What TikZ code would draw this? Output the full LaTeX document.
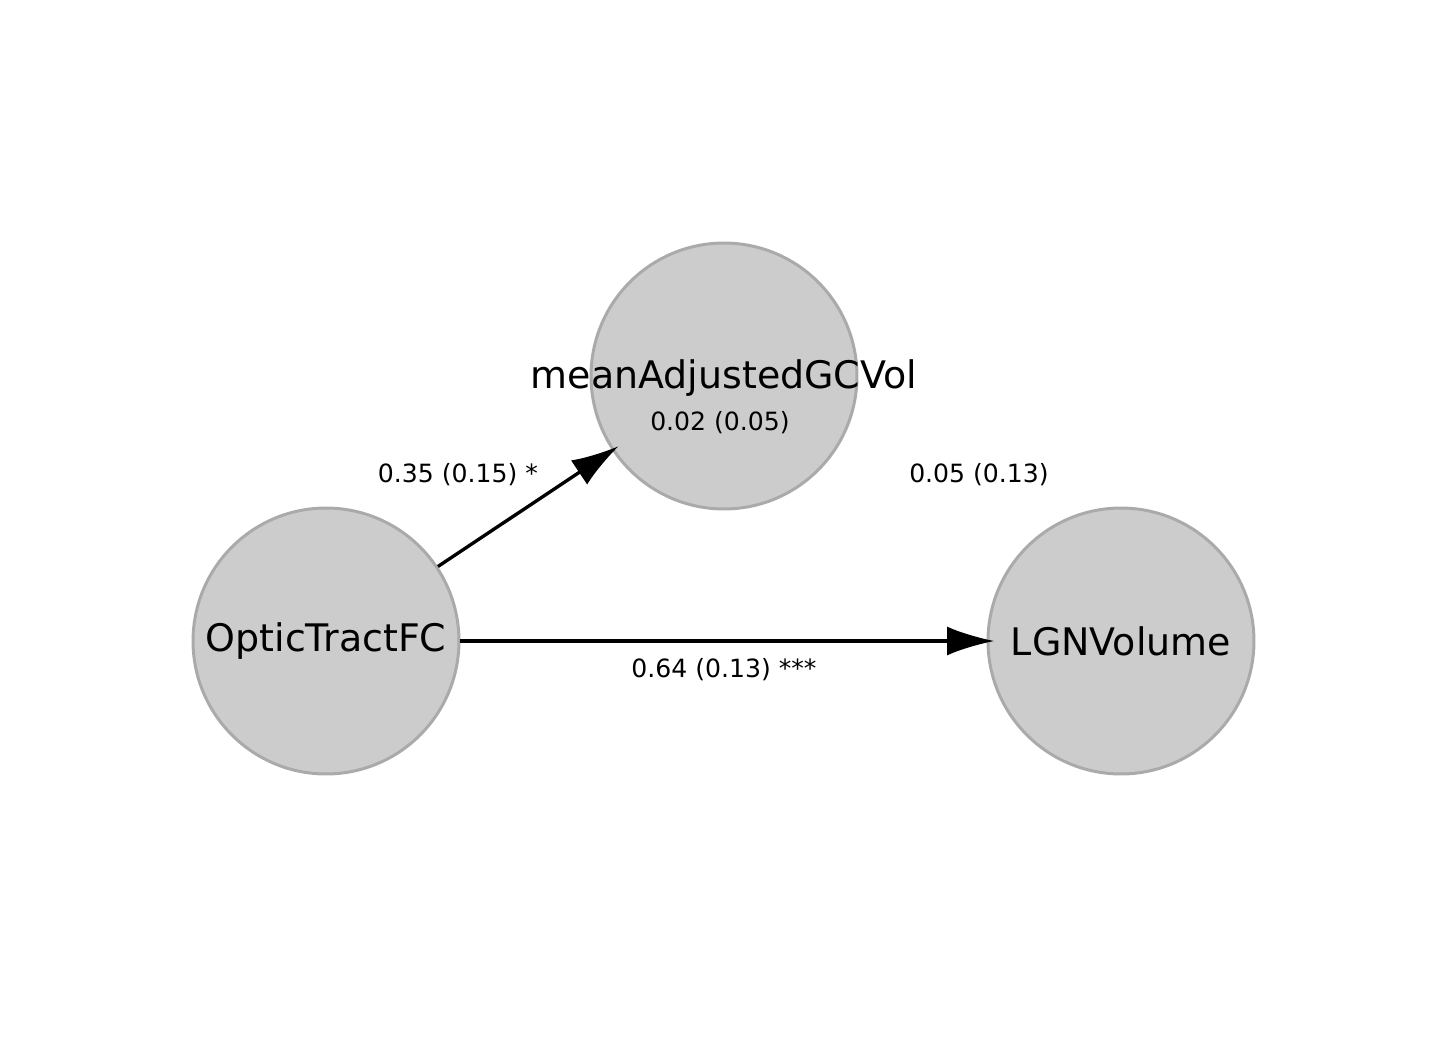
\documentclass[tikz,border=0pt]{standalone}
\usepackage{fontspec}
\setmainfont{DejaVu Sans}
\usetikzlibrary{arrows.meta}
\definecolor{nodefill}{HTML}{CCCCCC}
\definecolor{nodeline}{HTML}{AAAAAA}

\begin{document}
\begin{tikzpicture}[x=0.02cm,y=-0.02cm,-{Latex[length=27pt,width=16.5pt]},line width=1.9pt,shorten >=-4.5pt,
    main node/.style={circle,draw=nodeline,fill=nodefill,line width=1.7pt,minimum size=5.32cm,inner sep=0pt,font=\fontsize{21.6}{25}\selectfont},
    est/.style={font=\fontsize{14.3}{17}\selectfont,inner sep=1pt}]
                \useasboundingbox (0,0) rectangle (1438,1042);
                \node[main node] (mean) at (724,376) {};
                \node[main node] (optic) at (326,641) {OpticTractFC};
                \node[main node] (lgn) at (1121,641) {LGNVolume};
                \node[font=\fontsize{21.6}{25}\selectfont] (meanname) at (724,378) {meanAdjustedGCVol};
                \node[est] (meanvar) at (720,423) {0.02 (0.05)};

                \draw (optic) -- (mean);
                \draw (optic) -- (lgn);

                \node[est] (e1) at (458,475) {0.35 (0.15) *};
                \node[est] (e2) at (979,475) {0.05 (0.13)};
                \node[est] (e3) at (724,670) {0.64 (0.13) ***};
            \end{tikzpicture}
\end{document}
